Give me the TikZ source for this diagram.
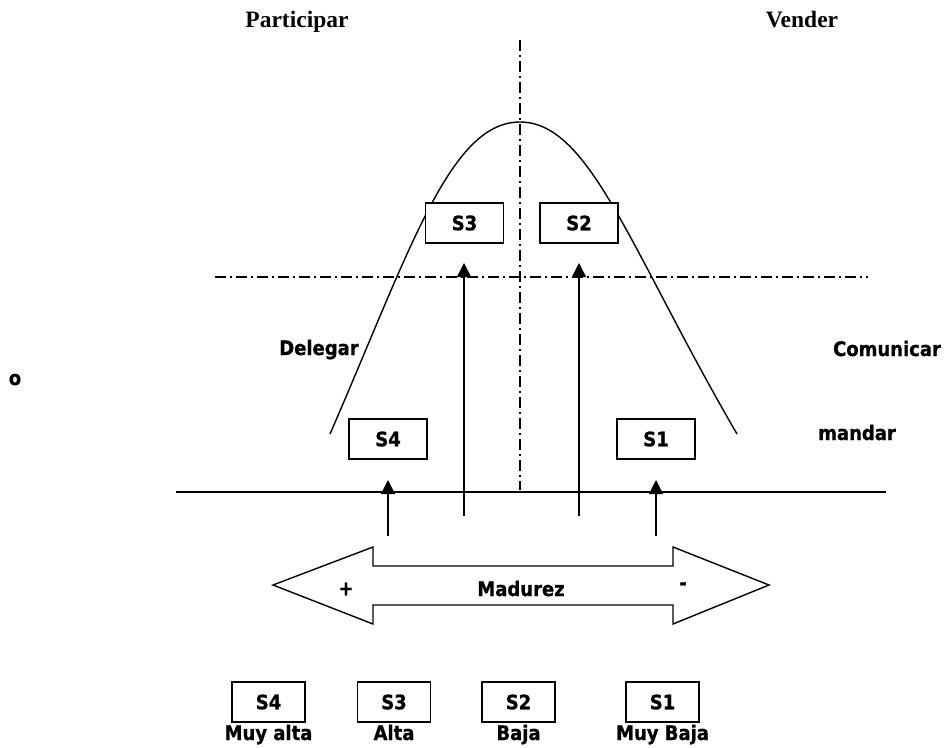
\documentclass[tikz,border=0pt]{standalone}
\usepackage{fontspec}
\newfontfamily\labfont{DejaVu Sans Condensed}[BoldFeatures={FakeBold=0.8}]
\newfontfamily\serfont{Liberation Serif}
\usetikzlibrary{arrows.meta}
\begin{document}
\begin{tikzpicture}[x=1pt,y=-1pt,
  every node/.style={font={\labfont\bfseries\fontsize{20}{22}\selectfont}, inner sep=0pt},
  ln/.style={line width=1.4pt},
  axisline/.style={line width=1.3pt, dash pattern=on 11pt off 4pt on 2pt off 4pt},
  sbox/.style={draw, line width=1.4pt, fill=white, minimum width=78pt, minimum height=40pt},
  lbox/.style={draw, line width=1.4pt, fill=white, minimum width=73pt, minimum height=40pt},
  uparrow/.style={line width=1.4pt, -{Triangle[width=14pt,length=14pt]}},
  sertitle/.style={font={\serfont\bfseries\fontsize{23.5}{26}\selectfont}, anchor=base}]
\useasboundingbox (0,0) rectangle (950,747);

% titles
\node[sertitle] (part) at (297,27) {Participar};
\node[sertitle] (vend) at (802,27) {Vender};

% axes
\coordinate (vtop) at (520,40);
\coordinate (vbot) at (520,490);
\draw[axisline] (vtop) -- (vbot);
\coordinate (hl) at (215,277);
\coordinate (hr) at (868,277);
\draw[axisline] (hl) -- (hr);
\coordinate (bl) at (176,492);
\coordinate (br) at (886,492);
\draw[ln] (bl) -- (br);

% bell curve
\coordinate (cl) at (330,434);
\coordinate (apex) at (520,122);
\coordinate (cr) at (737,434);
\draw[ln] (cl) .. controls (410,250) and (450,122) .. (apex)
               .. controls (590,122) and (630,250) .. (cr);

% style boxes on the curve
\node[sbox] (s3) at (464.5,223) {S3};
\node[sbox] (s2) at (579,223) {S2};
\node[sbox] (s4) at (388,439) {S4};
\node[sbox] (s1) at (656,439) {S1};

% side labels
\node[anchor=base] (deleg) at (319,355) {Delegar};
\node[anchor=base] (comun) at (887,356) {Comunicar};
\node[anchor=base] (mand) at (857,440) {mandar};
\node[anchor=base] (o) at (15,385) {o};

% arrows from the maturity scale
\coordinate (a4b) at (388,536);
\coordinate (a4t) at (388,480);
\draw[uparrow] (a4b) -- (a4t);
\coordinate (a1b) at (656,536);
\coordinate (a1t) at (656,480);
\draw[uparrow] (a1b) -- (a1t);
\coordinate (a3b) at (464,516);
\coordinate (a3t) at (464,263);
\draw[uparrow] (a3b) -- (a3t);
\coordinate (a2b) at (579,516);
\coordinate (a2t) at (579,263);
\draw[uparrow] (a2b) -- (a2t);

% double arrow: maturity
\draw[ln, line join=miter] (273,585) -- (373,547) -- (373,566) -- (673,566) -- (673,547)
   -- (769,585) -- (673,624) -- (673,605) -- (373,605) -- (373,624) -- cycle;
\node[anchor=base] (mad) at (521,596) {Madurez};
\node (plus) at (346,589) {+};
\node (minus) at (683,586) {-};

% legend
\node[lbox] (l4) at (268.5,702) {S4};
\node[lbox] (l3) at (394,702) {S3};
\node[lbox] (l2) at (518.5,702) {S2};
\node[lbox] (l1) at (662.5,702) {S1};
\node[anchor=base] (t4) at (268.5,740) {Muy alta};
\node[anchor=base] (t3) at (394,740) {Alta};
\node[anchor=base] (t2) at (518.5,740) {Baja};
\node[anchor=base] (t1) at (662.5,740) {Muy Baja};
\end{tikzpicture}
\end{document}
